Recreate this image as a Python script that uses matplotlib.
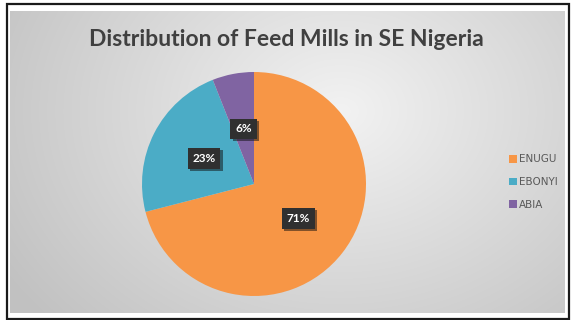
import matplotlib
matplotlib.use("Agg")
import matplotlib.pyplot as plt
import matplotlib.patheffects as pe
from matplotlib.patches import Rectangle
import numpy as np

states = ["ENUGU", "EBONYI", "ABIA"]
shares = [71, 23, 6]
colors = ["#F79646", "#4BACC6", "#8064A2"]
title = "Distribution of Feed Mills in SE Nigeria"

W, H = 572, 320
fig = plt.figure(figsize=(W / 100, H / 100), dpi=100)
fig.patch.set_facecolor("white")

# gray radial backdrop of the chart area
bg = fig.add_axes([10 / W, 7 / H, 555 / W, 302 / H])
yy, xx = np.mgrid[0:302, 0:555]
d = np.sqrt(((xx - 330) / 330.0) ** 2 + ((yy - 100) / 260.0) ** 2)
shade = np.clip(0.95 - 0.16 * d, 0.76, 0.95)
bg.imshow(np.dstack([shade] * 3), aspect="auto", interpolation="bilinear")
bg.set_axis_off()

# outer frame
fig.add_artist(Rectangle((7 / W, 1.5 / H), 562 / W, 315 / H, transform=fig.transFigure,
                         fill=False, edgecolor="#1a1a1a", linewidth=1.6))

ax = fig.add_axes([142 / W, 24 / H, 224 / W, 224 / H])
wedges, _, autotexts = ax.pie(
    shares, colors=colors, startangle=90, counterclock=False,
    autopct=lambda p: f"{p:.0f}%", pctdistance=0.5,
    wedgeprops=dict(linewidth=0),
    textprops=dict(color="white", fontsize=8.5, fontweight="bold", family="Lato"))
for t in autotexts:
    t.set_bbox(dict(boxstyle="square,pad=0.4", facecolor="#303030", edgecolor="none"))
    t.get_bbox_patch().set_path_effects([pe.SimplePatchShadow(offset=(1.5, -1.5), alpha=0.5),
                                         pe.Normal()])
ax.set_xlim(-1, 1)
ax.set_ylim(-1, 1)
ax.set_aspect("equal")

fig.text(286 / W, 1 - 40 / H, title, ha="center", va="center",
         fontsize=16.5, fontweight="bold", color="#404040", family="Lato")

leg = fig.legend(wedges, states, loc="center left", bbox_to_anchor=(500 / W, 1 - 182 / H),
                 frameon=False, fontsize=7.5, handlelength=0.7, handleheight=0.7,
                 handletextpad=0.25, labelspacing=1.2, labelcolor="#595959")

fig.savefig("out.png", dpi=100)
